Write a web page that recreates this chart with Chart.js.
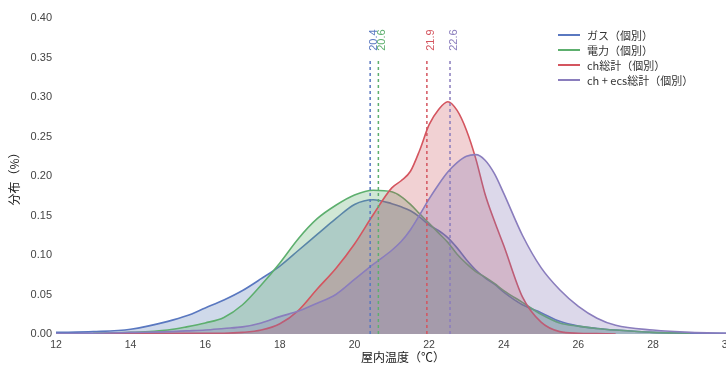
<!DOCTYPE html>
<html>
<head>
<meta charset="utf-8">
<script src="https://cdn.jsdelivr.net/npm/chart.js@4.4.1/dist/chart.umd.min.js"></script>
<style>
html, body { margin: 0; padding: 0; background: #fff; overflow: hidden; }
#wrap { position: relative; width: 726px; height: 365px; overflow: hidden; }
#legend { position: absolute; left: 558px; top: 27px; font: 11px "Noto Sans CJK JP", "Liberation Sans", sans-serif; color: #333; }
.row { display: flex; align-items: center; height: 15px; white-space: nowrap; }
.swatch { width: 22px; height: 2px; margin-right: 7px; }
</style>
</head>
<body>
<div id="wrap">
  <canvas id="myChart" width="750" height="365"></canvas>
  <div id="legend"></div>
</div>
<script>
// temperature grid (°C)
const temps = [12, 13, 14, 15, 15.5, 16, 16.5, 17, 17.5, 18, 18.5, 19, 19.5, 20, 20.5, 21, 21.25, 21.5, 21.75,
    22, 22.25, 22.5, 22.75, 23, 23.25, 23.5, 23.75, 24, 24.5, 25, 25.5, 26, 26.5, 27, 28, 29, 30];

const gasValues = [0.002, 0.003, 0.006, 0.016, 0.023, 0.033, 0.043, 0.055, 0.070, 0.086, 0.106, 0.126, 0.146, 0.164, 0.170, 0.165, 0.161, 0.156, 0.148,
    0.138, 0.131, 0.122, 0.109, 0.094, 0.081, 0.071, 0.063, 0.053, 0.037, 0.027, 0.016, 0.010, 0.007, 0.005, 0.002, 0.001, 0.001];

const elecValues = [null, 0.001, 0.002, 0.005, 0.009, 0.014, 0.021, 0.037, 0.062, 0.090, 0.121, 0.146, 0.163, 0.176, 0.182, 0.180, 0.174, 0.164, 0.152,
    0.140, 0.128, 0.116, 0.101, 0.089, 0.079, 0.072, 0.064, 0.055, 0.040, 0.025, 0.014, 0.010, 0.007, 0.005, 0.002, 0.001, null];

const chValues = [null, 0.000, 0.001, 0.001, 0.001, 0.001, 0.001, 0.002, 0.005, 0.013, 0.030, 0.057, 0.083, 0.114, 0.151, 0.185, 0.194, 0.206, 0.233,
    0.265, 0.284, 0.294, 0.283, 0.258, 0.222, 0.177, 0.143, 0.112, 0.047, 0.015, 0.003, 0.001, 0.0005, 0.000, null, null, null];

const chEcsValues = [0.0005, 0.001, 0.002, 0.003, 0.004, 0.005, 0.007, 0.009, 0.014, 0.022, 0.029, 0.039, 0.050, 0.069, 0.088, 0.106, 0.117, 0.132, 0.151,
    0.171, 0.189, 0.205, 0.217, 0.225, 0.227, 0.220, 0.203, 0.178, 0.125, 0.084, 0.056, 0.035, 0.020, 0.011, 0.005, 0.002, 0.001];

const seriesLabels = ['ガス（個別）', '電力（個別）', 'ch総計（個別）', 'ch + ecs総計（個別）'];
const meanTemps = [20.42, 20.64, 21.94, 22.56];
const meanLabels = ['20.4', '20.6', '21.9', '22.6'];
const xTicks = [12, 14, 16, 18, 20, 22, 24, 26, 28, 30];
const yTicks = [0, 0.05, 0.10, 0.15, 0.20, 0.25, 0.30, 0.35, 0.40];

const lineColors = ['#5a78c0', '#5daf6e', '#d4555f', '#8a7dbd'];
const fillColors = ['rgba(76,114,176,0.27)', 'rgba(85,168,104,0.28)', 'rgba(200,78,86,0.26)', 'rgba(129,114,178,0.28)'];
const meanTop = 0.347;
const meanLabelY = 0.372;

const FONT = '"Liberation Sans", "Noto Sans CJK JP", sans-serif';
const CJK = '"Noto Sans CJK JP", "Liberation Sans", sans-serif';

function toPoints(values) {
    const pts = [];
    temps.forEach(function (t, i) {
        if (values[i] !== null) pts.push({ x: t, y: values[i] });
    });
    return pts;
}

const allSeries = [gasValues, elecValues, chValues, chEcsValues];

const areaSets = allSeries.map(function (vals, i) {
    return {
        label: seriesLabels[i],
        data: toPoints(vals),
        borderColor: lineColors[i],
        backgroundColor: fillColors[i],
        borderWidth: 1.6,
        fill: 'origin',
        pointRadius: 0,
        cubicInterpolationMode: 'monotone',
        order: 4 - i
    };
});

const meanSets = meanTemps.map(function (m, i) {
    return {
        label: 'mean ' + meanLabels[i],
        data: [{ x: m, y: 0 }, { x: m, y: meanTop }],
        borderColor: lineColors[i],
        borderWidth: 1.5,
        borderDash: [3, 3],
        pointRadius: 0,
        fill: false,
        order: -1
    };
});

const meanLabelPlugin = {
    id: 'meanLabelPlugin',
    afterDatasetsDraw(chart) {
        const ctx = chart.ctx;
        const x = chart.scales.x, y = chart.scales.y;
        ctx.save();
        ctx.font = '11px ' + FONT;
        ctx.textAlign = 'center';
        ctx.textBaseline = 'middle';
        meanTemps.forEach(function (m, i) {
            ctx.save();
            ctx.translate(x.getPixelForValue(m) + 4, y.getPixelForValue(meanLabelY));
            ctx.rotate(-Math.PI / 2);
            ctx.fillStyle = lineColors[i];
            ctx.fillText(meanLabels[i], 0, 0);
            ctx.restore();
        });
        ctx.restore();
    }
};

const ctx = document.getElementById('myChart').getContext('2d');
new Chart(ctx, {
    type: 'line',
    data: { datasets: areaSets.concat(meanSets) },
    options: {
        responsive: false,
        animation: false,
        layout: { autoPadding: false, padding: { top: 18, right: 0, bottom: 0, left: 0 } },
        plugins: { legend: { display: false }, tooltip: { enabled: false } },
        scales: {
            x: {
                type: 'linear',
                min: 12,
                max: 30.6,
                grid: { display: false, drawTicks: false },
                border: { display: false },
                afterBuildTicks: function (s) { s.ticks = xTicks.map(function (v) { return { value: v }; }); },
                afterFit: function (s) { s.height = 31; },
                ticks: { color: '#444', font: { family: FONT, size: 10.5 }, padding: 5, maxRotation: 0, autoSkip: false },
                title: { display: true, text: '屋内温度（℃）', color: '#222', font: { family: CJK, size: 12 }, padding: { top: 0, bottom: 0 } }
            },
            y: {
                min: 0,
                max: 0.4,
                grid: { display: false, drawTicks: false },
                border: { display: false },
                afterBuildTicks: function (s) { s.ticks = yTicks.map(function (v) { return { value: v }; }); },
                afterFit: function (s) { s.width = 56; },
                ticks: { color: '#444', font: { family: FONT, size: 11 }, padding: 4, callback: function (v) { return v.toFixed(2); } },
                title: { display: true, text: '分布（%）', color: '#222', font: { family: CJK, size: 12 }, padding: { top: 7, bottom: 0 } }
            }
        }
    },
    plugins: [meanLabelPlugin]
});

// legend
const legend = document.getElementById('legend');
seriesLabels.forEach(function (name, i) {
    const row = document.createElement('div');
    row.className = 'row';
    const sw = document.createElement('span');
    sw.className = 'swatch';
    sw.style.background = lineColors[i];
    const txt = document.createElement('span');
    txt.innerText = name;
    row.appendChild(sw);
    row.appendChild(txt);
    legend.appendChild(row);
});
</script>
</body>
</html>
